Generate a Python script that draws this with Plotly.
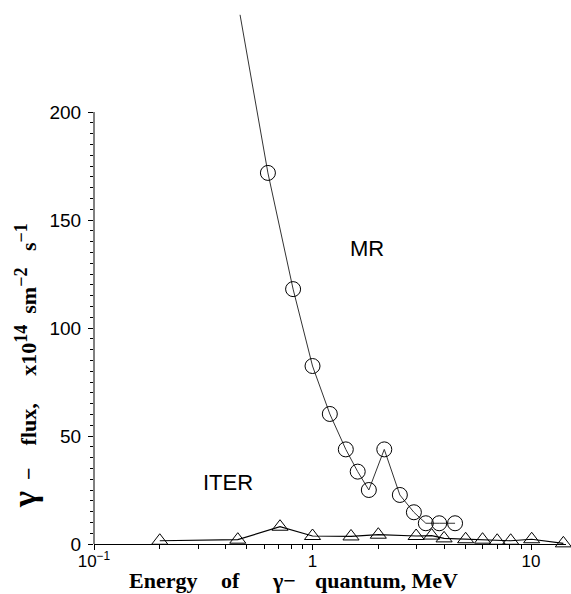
import plotly.graph_objects as go

# MR curve (first point is the start of the curve above the axis, no marker)
mr_energy = [0.466, 0.625, 0.815, 1.0, 1.20, 1.42, 1.61, 1.81, 2.13, 2.51, 2.91, 3.30, 3.80, 4.49]
mr_flux = [245, 171.8, 118, 82.4, 60.2, 43.8, 33.5, 25.0, 43.8, 22.7, 14.7, 9.6, 9.6, 9.6]

# ITER data
iter_energy = [0.20, 0.455, 0.71, 1.0, 1.50, 2.0, 2.98, 3.51, 4.0, 5.02, 6.0, 7.0, 8.07, 10.07, 14.06]
iter_flux = [1.5, 2.0, 8.0, 3.7, 3.5, 4.3, 3.7, 3.9, 2.6, 2.2, 2.0, 1.5, 1.5, 2.2, 0.3]

# Axis ticks
x_tickvals = [0.1, 1, 10]
x_ticktext = ["10<sup>\u22121</sup>", "1", "10"]
x_minor = [0.2, 0.3, 0.4, 0.5, 0.6, 0.7, 0.8, 0.9, 2, 3, 4, 5, 6, 7, 8, 9]
y_tickvals = [0, 50, 100, 150, 200]
y_minor = [v for v in range(5, 200, 5) if v % 50 != 0]

# x-axis title pieces (text, left edge in paper units)
x_title_parts = ["Energy", "of", "\u03b3\u2212", "quantum, MeV"]
x_title_pos = [0.070, 0.265, 0.373, 0.464]

sans = "Liberation Sans, Arial, sans-serif"
serif = "Liberation Serif, Times New Roman, serif"

fig = go.Figure()

fig.add_trace(go.Scatter(
    x=mr_energy, y=mr_flux, mode="lines",
    line=dict(color="#333333", width=1), showlegend=False, hoverinfo="skip"))
fig.add_trace(go.Scatter(
    x=mr_energy[1:], y=mr_flux[1:], mode="markers",
    marker=dict(symbol="circle-open", size=15, color="black", line=dict(width=1, color="black")),
    showlegend=False, cliponaxis=False))

fig.add_trace(go.Scatter(
    x=iter_energy, y=iter_flux, mode="lines+markers",
    line=dict(color="black", width=1.2),
    marker=dict(symbol="triangle-up-open", size=14, color="black", line=dict(width=1, color="black")),
    showlegend=False, cliponaxis=False))

fig.add_annotation(x=0.2495, y=136.6, xref="x", yref="y", text="MR", showarrow=False,
                   font=dict(family=sans, size=22, color="black"))
fig.add_annotation(x=-0.387, y=28.7, xref="x", yref="y", text="ITER", showarrow=False,
                   font=dict(family=sans, size=22, color="black"))

# X axis title
for txt, xp in zip(x_title_parts, x_title_pos):
    fig.add_annotation(
        x=xp, y=-0.068, xref="paper", yref="paper", xanchor="left", yanchor="middle",
        text="<b>" + txt + "</b>", showarrow=False,
        font=dict(family=serif, size=22, color="black"))

# Y axis title
nb = "\u00a0"
sup = lambda s: "<sup><span style='font-size:18px'>" + s + "</span></sup>"
fig.add_annotation(
    x=-0.146, y=0.33, xref="paper", yref="paper", xanchor="center", yanchor="middle",
    textangle=-90,
    text=("<b><span style='font-size:34px'>\u03b3</span>" + nb * 2 + "\u2212" + nb * 4 + "flux,"
          + nb * 5 + "x10" + sup("14") + nb * 2 + "sm" + sup("\u22122") + nb * 3 + "s"
          + sup("\u22121") + "</b>"),
    showarrow=False, font=dict(family=serif, size=22, color="black"))

# Y axis line only up to 200
fig.add_shape(type="line", xref="paper", yref="y", x0=0, x1=0, y0=0, y1=200,
              line=dict(color="black", width=1))

fig.update_xaxes(
    type="log", range=[-1, 1.16], showline=True, linecolor="black", linewidth=1,
    ticks="outside", ticklen=5, tickcolor="black", tickvals=x_tickvals, ticktext=x_ticktext,
    ticklabelstandoff=-3,
    minor=dict(tickvals=x_minor, ticks="outside", ticklen=4, tickcolor="black"),
    showgrid=False, zeroline=False, tickfont=dict(family=sans, size=17, color="black"))
fig.update_yaxes(
    range=[0, 250], showline=False, ticks="outside", ticklen=5, tickcolor="black",
    tickvals=y_tickvals, ticktext=[str(v) for v in y_tickvals], ticklabelstandoff=3,
    minor=dict(tickvals=y_minor, ticks="outside", ticklen=3, tickcolor="black"),
    showgrid=False, zeroline=False, tickfont=dict(family=sans, size=19, color="black"))

fig.update_layout(
    width=571, height=594, margin=dict(l=94, r=5, t=4, b=50),
    paper_bgcolor="white", plot_bgcolor="white")

fig.write_html("out.html", config={"displayModeBar": False},
               post_script="document.body.style.margin='0';")
